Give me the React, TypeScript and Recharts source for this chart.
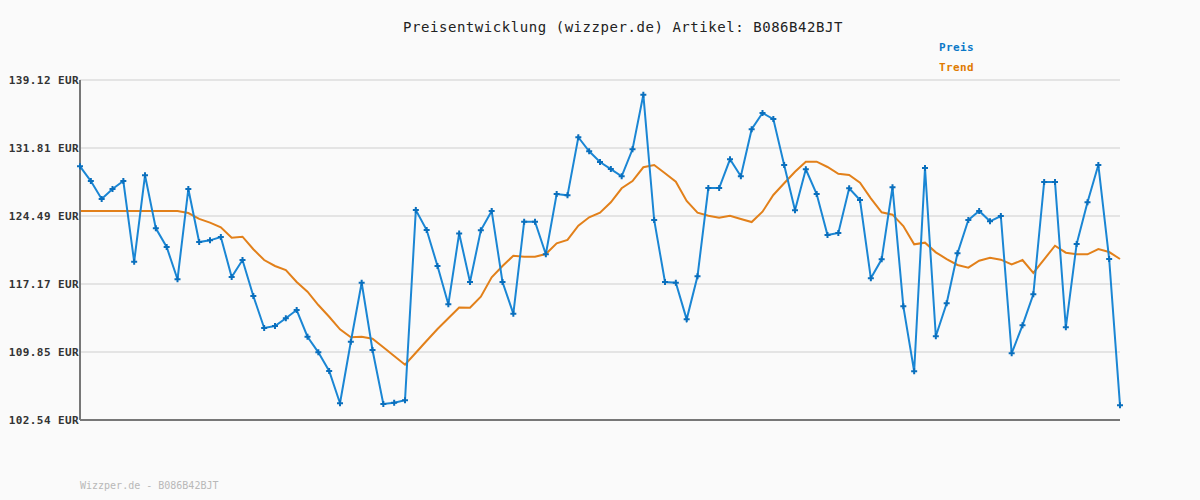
import { LineChart, Line, XAxis, YAxis, CartesianGrid, ReferenceLine } from 'recharts';

const preis = [
  129.83, 128.25, 126.32, 127.39, 128.25, 119.57, 128.87, 123.16, 121.15, 117.68,
  127.39, 121.69, 121.87, 122.23, 117.93, 119.75, 115.88, 112.44, 112.65, 113.48,
  114.37, 111.5, 109.82, 107.81, 104.34, 110.96, 117.31, 110.07, 104.26, 104.4,
  104.66, 125.13, 122.98, 119.11, 114.99, 122.61, 117.39, 122.95, 125.03, 117.39,
  113.98, 123.87, 123.87, 120.37, 126.85, 126.71, 132.96, 131.45, 130.3, 129.54,
  128.76, 131.66, 137.54, 124.06, 117.39, 117.31, 113.37, 118.0, 127.5, 127.5,
  130.59, 128.76, 133.82, 135.57, 134.92, 129.98, 125.1, 129.51, 126.85, 122.44,
  122.66, 127.47, 126.21, 117.79, 119.83, 127.58, 114.77, 107.78, 129.65, 111.55,
  115.1, 120.47, 124.06, 125.03, 123.92, 124.49, 109.72, 112.73, 116.06, 128.15,
  128.15, 112.51, 121.48, 125.96, 129.98, 119.86, 104.12,
];

const trend = [
  125.03, 125.03, 125.03, 125.03, 125.03, 125.03, 125.03, 125.03, 125.03, 125.03,
  124.81, 124.17, 123.77, 123.27, 122.15, 122.26, 120.91, 119.75, 119.11, 118.68,
  117.39, 116.34, 114.91, 113.65, 112.3, 111.44, 111.5, 111.29, 110.36, 109.43,
  108.49, 109.78, 111.07, 112.33, 113.48, 114.64, 114.62, 115.81, 117.89, 119.11,
  120.22, 120.11, 120.11, 120.4, 121.55, 121.91, 123.44, 124.35, 124.84, 125.96,
  127.47, 128.25, 129.73, 129.98, 129.08, 128.18, 126.1, 124.84, 124.52, 124.3,
  124.52, 124.17, 123.84, 124.95, 126.75, 128.01, 129.25, 130.33, 130.33, 129.76,
  129.03, 128.9, 128.07, 126.39, 124.89, 124.63, 123.41, 121.44, 121.62, 120.58,
  119.86, 119.22, 118.93, 119.68, 120.0, 119.79, 119.27, 119.75, 118.36, 119.83,
  121.29, 120.54, 120.37, 120.37, 120.94, 120.61, 119.86,
];

const yTicks = [102.54, 109.85, 117.17, 124.49, 131.81, 139.12];

const data = preis.map((p, i) => ({ tag: i + 1, preis: p, trend: trend[i] }));

const mono = '"DejaVu Sans Mono", "Liberation Mono", monospace';

function PlusDot(props: any) {
  const { cx, cy, index } = props;
  if (cx == null || cy == null) return null;
  return (
    <path
      key={`dot-${index}`}
      d={`M${cx - 3},${cy}H${cx + 3}M${cx},${cy - 3}V${cy + 3}`}
      stroke="#0a6fbd"
      strokeWidth={2}
      fill="none"
    />
  );
}

function EurTick(props: any) {
  const { x, y, payload } = props;
  return (
    <text
      x={x}
      y={y}
      dy={4}
      textAnchor="end"
      fontFamily={mono}
      fontSize={11}
      fontWeight="bold"
      fill="#333"
      letterSpacing={0.4}
    >
      {`${Number(payload.value).toFixed(2)} EUR`}
    </text>
  );
}

export default function App() {
  return (
    <div
      style={{
        position: 'absolute',
        left: 0,
        top: 0,
        width: 1200,
        height: 500,
        background: '#fafafa',
        fontFamily: mono,
      }}
    >
      <div
        style={{
          position: 'absolute',
          left: 0,
          width: 1246,
          top: 19,
          textAlign: 'center',
          fontSize: 14,
          letterSpacing: 0.55,
          color: '#222',
        }}
      >
        Preisentwicklung (wizzper.de) Artikel: B086B42BJT
      </div>
      <div style={{ position: 'absolute', left: 939, top: 41, fontSize: 11, fontWeight: 'bold', letterSpacing: 0.4, color: '#0a78c8' }}>
        Preis
      </div>
      <div style={{ position: 'absolute', left: 939, top: 61, fontSize: 11, fontWeight: 'bold', letterSpacing: 0.4, color: '#e07b00' }}>
        Trend
      </div>
      <div style={{ position: 'absolute', left: 80, top: 480, fontSize: 10, color: '#b8b8b8' }}>
        Wizzper.de - B086B42BJT
      </div>
      <LineChart width={1200} height={500} data={data} margin={{ top: 80, right: 80, bottom: 80, left: 10 }}>
        <CartesianGrid horizontal vertical={false} stroke="#e4e4e4" strokeWidth={2} />
        <XAxis dataKey="tag" hide />
        <YAxis
          width={70}
          domain={[102.54, 139.12]}
          ticks={yTicks}
          tickSize={0}
          tickMargin={1}
          tick={EurTick}
          axisLine={{ stroke: '#777', strokeWidth: 2 }}
        />
        <ReferenceLine y={102.54} stroke="#777" strokeWidth={2} />
        <Line
          type="linear"
          dataKey="trend"
          stroke="#e2801a"
          strokeWidth={2}
          dot={false}
          isAnimationActive={false}
        />
        <Line
          type="linear"
          dataKey="preis"
          stroke="#1a86d4"
          strokeWidth={2}
          dot={PlusDot}
          isAnimationActive={false}
        />
      </LineChart>
    </div>
  );
}
